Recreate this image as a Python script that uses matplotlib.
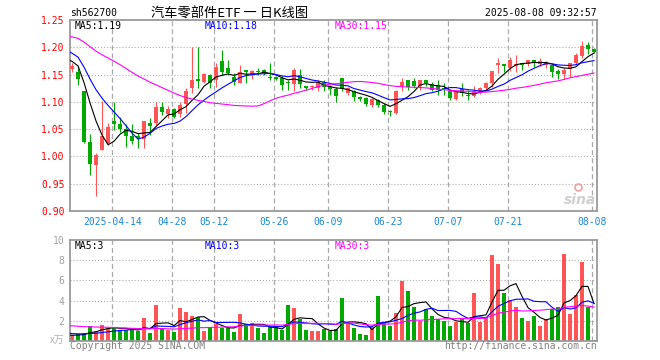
import numpy as np
import pandas as pd
import matplotlib as mpl
mpl.use('Agg')
import matplotlib.pyplot as plt
from matplotlib.lines import Line2D

# daily bars 2025-04-02 .. 2025-08-08, 88 sessions
opens = [1.160, 1.155, 1.120, 1.027, 0.985, 1.012, 1.024, 1.065, 1.060, 1.050,
         1.037, 1.038, 1.032, 1.062, 1.062, 1.091, 1.078, 1.086, 1.077, 1.096,
         1.125, 1.141, 1.137, 1.149, 1.140, 1.175, 1.162, 1.146, 1.135, 1.159,
         1.151, 1.156, 1.159, 1.145, 1.145, 1.143, 1.137, 1.132, 1.149, 1.129,
         1.127, 1.125, 1.137, 1.128, 1.124, 1.143, 1.117, 1.119, 1.108, 1.107,
         1.095, 1.104, 1.095, 1.083, 1.080, 1.128, 1.140, 1.139, 1.129, 1.140,
         1.133, 1.131, 1.125, 1.119, 1.105, 1.123, 1.112, 1.111, 1.117, 1.125,
         1.135, 1.168, 1.170, 1.162, 1.165, 1.172, 1.170, 1.176, 1.170, 1.168,
         1.168, 1.157, 1.151, 1.160, 1.171, 1.184, 1.204, 1.196]
highs = [1.172, 1.163, 1.120, 1.041, 1.006, 1.101, 1.062, 1.100, 1.073, 1.059,
         1.060, 1.043, 1.065, 1.070, 1.100, 1.100, 1.093, 1.088, 1.099, 1.125,
         1.200, 1.200, 1.152, 1.151, 1.171, 1.195, 1.177, 1.152, 1.168, 1.159,
         1.159, 1.162, 1.160, 1.172, 1.147, 1.147, 1.140, 1.162, 1.160, 1.129,
         1.131, 1.140, 1.140, 1.131, 1.128, 1.143, 1.128, 1.122, 1.111, 1.108,
         1.107, 1.105, 1.098, 1.085, 1.122, 1.143, 1.140, 1.143, 1.140, 1.140,
         1.137, 1.140, 1.134, 1.122, 1.122, 1.134, 1.122, 1.129, 1.128, 1.137,
         1.157, 1.180, 1.170, 1.182, 1.186, 1.172, 1.177, 1.176, 1.180, 1.174,
         1.168, 1.160, 1.162, 1.172, 1.189, 1.212, 1.209, 1.198]
lows = [1.154, 1.131, 1.025, 0.966, 0.927, 1.012, 1.021, 1.049, 1.044, 1.018,
        1.023, 1.016, 1.016, 1.040, 1.057, 1.076, 1.070, 1.070, 1.073, 1.080,
        1.116, 1.125, 1.134, 1.125, 1.128, 1.149, 1.149, 1.131, 1.134, 1.134,
        1.141, 1.149, 1.149, 1.140, 1.140, 1.122, 1.122, 1.119, 1.125, 1.121,
        1.122, 1.119, 1.119, 1.113, 1.099, 1.119, 1.113, 1.101, 1.101, 1.093,
        1.091, 1.090, 1.078, 1.074, 1.078, 1.119, 1.122, 1.125, 1.122, 1.129,
        1.119, 1.113, 1.113, 1.104, 1.104, 1.111, 1.104, 1.109, 1.115, 1.122,
        1.128, 1.152, 1.155, 1.157, 1.155, 1.159, 1.165, 1.163, 1.165, 1.162,
        1.146, 1.141, 1.141, 1.146, 1.168, 1.180, 1.188, 1.189]
closes = [1.166, 1.142, 1.026, 0.987, 1.002, 1.038, 1.054, 1.059, 1.051, 1.037,
          1.029, 1.033, 1.065, 1.056, 1.091, 1.082, 1.087, 1.073, 1.095, 1.119,
          1.140, 1.139, 1.151, 1.135, 1.163, 1.155, 1.152, 1.137, 1.155, 1.154,
          1.157, 1.154, 1.152, 1.143, 1.141, 1.131, 1.135, 1.159, 1.132, 1.125,
          1.128, 1.137, 1.128, 1.123, 1.111, 1.125, 1.125, 1.109, 1.106, 1.096,
          1.105, 1.095, 1.082, 1.081, 1.120, 1.137, 1.128, 1.129, 1.140, 1.134,
          1.122, 1.122, 1.123, 1.107, 1.119, 1.117, 1.110, 1.119, 1.125, 1.134,
          1.157, 1.172, 1.165, 1.176, 1.170, 1.168, 1.176, 1.171, 1.174, 1.172,
          1.154, 1.151, 1.159, 1.171, 1.186, 1.202, 1.196, 1.192]
# volume, x万
volumes = [0.6, 0.7, 0.8, 1.45, 1.0, 1.6, 1.3, 1.3, 1.05, 1.05,
           1.1, 0.95, 2.25, 0.75, 3.6, 1.3, 1.1, 0.85, 3.3, 2.9,
           2.5, 2.35, 1.0, 1.4, 1.65, 1.25, 1.25, 0.9, 2.7, 1.65,
           1.75, 1.3, 0.8, 1.4, 1.4, 1.05, 3.6, 3.25, 2.2, 1.1,
           0.95, 1.0, 1.15, 1.0, 1.2, 4.25, 1.75, 1.25, 0.7, 0.6,
           1.35, 4.5, 1.9, 1.45, 2.8, 5.95, 4.95, 3.35, 1.95, 3.13,
           2.5, 2.2, 1.95, 1.5, 1.85, 2.13, 1.83, 4.75, 1.93, 2.3,
           8.5, 7.6, 4.8, 4.1, 3.4, 2.23, 2.0, 2.5, 1.5, 2.17,
           3.17, 3.4, 8.6, 2.67, 4.6, 7.8, 3.33, 0.1]

# sessions before the window (estimated from where the MA lines start)
prior_closes = [1.228, 1.225, 1.232, 1.240, 1.245, 1.238, 1.230, 1.236, 1.242, 1.248,
                1.240, 1.235, 1.228, 1.232, 1.238, 1.235, 1.230, 1.226, 1.232, 1.228,
                1.220, 1.215, 1.210, 1.205, 1.198, 1.192, 1.185, 1.180, 1.172, 1.168]
prior_volumes = [1.8, 1.9, 2.1, 1.7, 1.8, 2.0, 1.6, 1.9, 2.2, 1.8,
                 1.7, 2.0, 1.9, 1.8, 2.1, 1.9, 1.7, 1.8, 2.0, 1.9,
                 1.9, 0.9, 0.95, 0.85, 0.9, 0.85, 0.6, 0.55, 0.5, 0.6]

date_labels = ['2025-04-14', '04-28', '05-12', '05-26', '06-09',
               '06-23', '07-07', '07-21', '08-08']
date_index = [7, 17, 24, 34, 43, 53, 63, 73, 87]
price_ticks = [0.90, 0.95, 1.00, 1.05, 1.10, 1.15, 1.20, 1.25]
vol_ticks = [2, 4, 6, 8, 10]

RED = '#ff5555'
GREEN = '#00a800'
GRID = '#aaaaaa'
EDGE = '#9a9a9a'

plt.rcParams['font.family'] = ['DejaVu Sans Mono']
plt.rcParams['lines.scale_dashes'] = False

W, H = 660, 360

def box(l, t, r, b):
    return [l/W, 1-b/H, (r-l)/W, (b-t)/H]

def ftext(x, y, s, **kw):
    fig.text(x/W, 1-y/H, s, va='center', **kw)

def moving(series, n):
    return pd.Series(series).rolling(n).mean().to_numpy()

n_prior = len(prior_closes)
all_c = prior_closes + closes
all_v = prior_volumes + volumes
x_ma = np.arange(-1, len(closes))
ma_c = {n: moving(all_c, n)[n_prior-1:] for n in (5, 10, 30)}
ma_v = {n: moving(all_v, n)[n_prior-1:] for n in (5, 10, 30)}
ma_colors = {5: 'black', 10: '#0000ff', 30: '#ff00ff'}

fig = plt.figure(figsize=(W/100, H/100), dpi=100)
ax = fig.add_axes(box(70, 20, 597, 211))
axv = fig.add_axes(box(70, 240, 597, 341))

x = np.arange(len(closes))
o = np.array(opens); c = np.array(closes)
cols = [RED if c[i] > o[i] else GREEN for i in range(len(c))]

for a in (ax, axv):
    a.set_xlim(-0.35, 87.5)
    for s in a.spines.values():
        s.set_color(EDGE)
        s.set_linewidth(1.3)
    for d in date_index:
        a.axvline(d-0.28, color=GRID, lw=0.9, ls=(0, (3.6, 2.2)), zorder=0)

ax.set_ylim(0.90, 1.25)
for t in price_ticks[1:-1]:
    ax.axhline(t, color=GRID, lw=0.8, ls=(0, (0.75, 1.45)), zorder=0)
axv.set_ylim(0, 10)
for t in vol_ticks[:-1]:
    axv.axhline(t, color=GRID, lw=0.8, ls=(0, (0.75, 1.45)), zorder=0)

# candles
ax.vlines(x, lows, highs, colors=cols, lw=0.8, zorder=2)
body = np.maximum(np.abs(c-o), 0.0012)
ax.bar(x, body, bottom=np.minimum(o, c), width=0.8, color=cols, lw=0, zorder=3)
for n in (5, 10, 30):
    ax.plot(x_ma, ma_c[n], color=ma_colors[n], lw=0.8, zorder=4)

# volume
axv.bar(x, volumes, width=0.8, color=cols, lw=0, zorder=2)
for n in (5, 10, 30):
    axv.plot(x_ma, ma_v[n], color=ma_colors[n], lw=0.8, zorder=4)

ax.set_yticks(price_ticks)
ax.set_yticklabels(['{:.2f}'.format(t) for t in price_ticks])
ax.tick_params(axis='y', length=0, pad=4, labelcolor='red', labelsize=7)
ax.set_xticks(np.array(date_index)-0.28)
ax.set_xticklabels(date_labels)
ax.tick_params(axis='x', length=0, pad=4, labelcolor='#1a88d0', labelsize=7)

axv.set_xticks([])
axv.set_yticks(vol_ticks)
axv.set_yticklabels([str(t) for t in vol_ticks])
axv.tick_params(axis='y', length=0, pad=4, labelcolor='#a0a0a0', labelsize=7)

# texts
ftext(70, 13, 'sh562700', fontsize=7)
ftext(230, 13, '汽车零部件ETF 一 日K线图', ha='center', fontsize=9.5,
      family=['Noto Sans CJK SC', 'DejaVu Sans'])
ftext(597, 13, '2025-08-08 09:32:57', ha='right', fontsize=7)

ftext(75, 26, 'MA5:{:.2f}'.format(ma_c[5][-1]), fontsize=7, color=ma_colors[5])
ftext(205, 26, 'MA10:{:.2f}'.format(ma_c[10][-1]), fontsize=7, color=ma_colors[10])
ftext(335, 26, 'MA30:{:.2f}'.format(ma_c[30][-1]), fontsize=7, color=ma_colors[30])
ftext(75, 246, 'MA5:{:d}'.format(int(ma_v[5][-1])), fontsize=7, color=ma_colors[5])
ftext(205, 246, 'MA10:{:d}'.format(int(ma_v[10][-1])), fontsize=7, color=ma_colors[10])
ftext(335, 246, 'MA30:{:d}'.format(int(ma_v[30][-1])), fontsize=7, color=ma_colors[30])

ftext(64, 340, 'x万', ha='right', fontsize=7, color='#b0b0b0',
      family=['Noto Sans CJK SC', 'DejaVu Sans'])
ftext(70, 346, 'Copyright 2025 SINA.COM', fontsize=7, color='#808080')
ftext(597, 346, 'http://finance.sina.com.cn', ha='right', fontsize=7, color='#808080')

# sina watermark
ftext(580, 200, 'sina', ha='center', fontsize=10, color='#cfcfcf',
      style='italic', weight='bold', family=['DejaVu Sans'])
fig.add_artist(Line2D([578/W], [1-187/H], marker='o', ms=5, mfc='none',
                      mec='#f2a0a0', mew=1.2, transform=fig.transFigure))

fig.savefig('out.png', dpi=100)
